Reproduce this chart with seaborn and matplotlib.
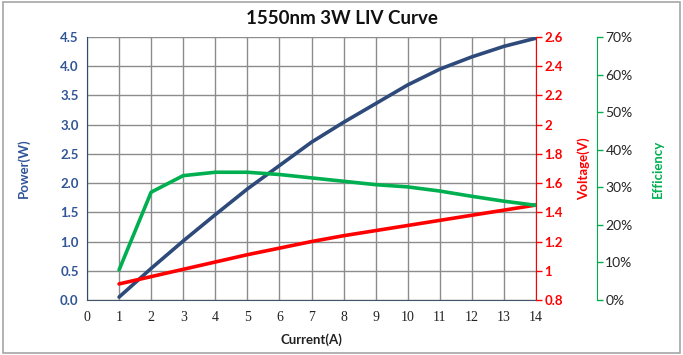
import matplotlib
matplotlib.use("Agg")
import matplotlib.pyplot as plt
import seaborn as sns
import pandas as pd
from matplotlib.patches import Rectangle

current = [1, 2, 3, 4, 5, 6, 7, 8, 9, 10, 11, 12, 13, 14]
power = [0.05, 0.54, 1.01, 1.46, 1.90, 2.30, 2.70, 3.04, 3.36, 3.68, 3.95, 4.16, 4.34, 4.48]
voltage = [0.91, 0.96, 1.01, 1.06, 1.11, 1.155, 1.20, 1.24, 1.275, 1.31, 1.345, 1.38, 1.415, 1.45]
efficiency = [8.0, 28.7, 33.1, 34.0, 34.0, 33.4, 32.5, 31.6, 30.7, 30.1, 29.0, 27.6, 26.3, 25.2]

x_ticks = list(range(0, 15))
power_ticks = [0.0, 0.5, 1.0, 1.5, 2.0, 2.5, 3.0, 3.5, 4.0, 4.5]
voltage_ticks = [0.8, 1.0, 1.2, 1.4, 1.6, 1.8, 2.0, 2.2, 2.4, 2.6]
eff_ticks = [0, 10, 20, 30, 40, 50, 60, 70]

df = pd.DataFrame({"Current": current, "Power": power, "Voltage": voltage, "Eff": efficiency})

sns.set_style("white")
plt.rcParams['font.family'] = ['Lato', 'DejaVu Sans']

BLUE = "#2E4A7A"
BLUE_T = "#2F5597"
RED = "#FF0000"
GREEN = "#00B050"

W, H = 683, 355
L, R, T, B = 87, 536, 37, 300

fig = plt.figure(figsize=(6.83, 3.55), dpi=100)
fig.patches.append(Rectangle((0.004, 0.006), 0.992, 0.988, transform=fig.transFigure,
                             fill=False, edgecolor="#A6A6A6", linewidth=1.2))
ax = fig.add_axes([L/W, 1 - B/H, (R-L)/W, (B-T)/H])
ax2 = ax.twinx()
ax3 = ax.twinx()

sns.lineplot(data=df, x="Current", y="Power", ax=ax, color=BLUE, linewidth=2.6)
sns.lineplot(data=df, x="Current", y="Voltage", ax=ax2, color=RED, linewidth=2.6)
sns.lineplot(data=df, x="Current", y="Eff", ax=ax3, color=GREEN, linewidth=2.6)

ax.set_xlim(0, 14)
ax.set_ylim(0, 4.5)
ax2.set_ylim(0.8, 2.6)
ax3.set_ylim(0, 70)

ax.set_xticks(x_ticks)
ax.set_xticklabels([str(t) for t in x_ticks], fontfamily="Liberation Serif", fontsize=10, color="#222222")
ax.set_yticks(power_ticks)
ax.set_yticklabels([f"{t:.1f}" for t in power_ticks], fontsize=9.5, fontweight="bold", color=BLUE_T)
ax.grid(True, color="#8C8C8C", linewidth=1.0)
ax.set_axisbelow(True)
ax.tick_params(axis="y", length=0, pad=6)
ax.tick_params(axis="x", length=0, pad=8)

ax2.set_yticks(voltage_ticks)
ax2.set_yticklabels([f"{t:g}" for t in voltage_ticks], fontsize=9.5, fontweight="bold", color=RED)
ax2.tick_params(axis="y", length=4, color=RED, width=1, pad=2)
ax3.set_yticks(eff_ticks)
ax3.set_yticklabels([f"{t}%" for t in eff_ticks], fontsize=9.5, fontweight="bold", color=GREEN)
ax3.tick_params(axis="y", length=4, color=GREEN, width=1, pad=2)

for a in (ax, ax2, ax3):
    for s in a.spines.values():
        s.set_visible(False)
ax.spines["left"].set_visible(True)
ax.spines["left"].set_color(BLUE)
ax.spines["bottom"].set_visible(True)
ax.spines["bottom"].set_color("#44546A")
ax2.spines["right"].set_visible(True)
ax2.spines["right"].set_color(RED)
ax3.spines["right"].set_visible(True)
ax3.spines["right"].set_color(GREEN)
ax3.spines["right"].set_position(("axes", (597-L)/(R-L)))

ax.set_xlabel("Current(A)", fontsize=9.5, fontweight="bold", color="#222222")
ax.xaxis.set_label_coords((311-L)/(R-L), -(333-B)/(B-T))
ax.set_ylabel("Power(W)", fontsize=9.5, fontweight="bold", color=BLUE_T)
ax.yaxis.set_label_coords((30-L)/(R-L), 0.5)
ax2.set_ylabel("Voltage(V)", fontsize=9.5, fontweight="bold", color=RED)
ax2.yaxis.set_label_coords((577-L)/(R-L), 0.5)
ax3.set_ylabel("Efficiency", fontsize=9.5, fontweight="bold", color=GREEN)
ax3.yaxis.set_label_coords((652-L)/(R-L), 0.5)

fig.text(0.5, 1 - 18/H, "1550nm 3W LIV Curve", ha="center", va="center",
         fontsize=13.5, fontweight="bold", color="#111111")

fig.savefig("out.png", dpi=100)
